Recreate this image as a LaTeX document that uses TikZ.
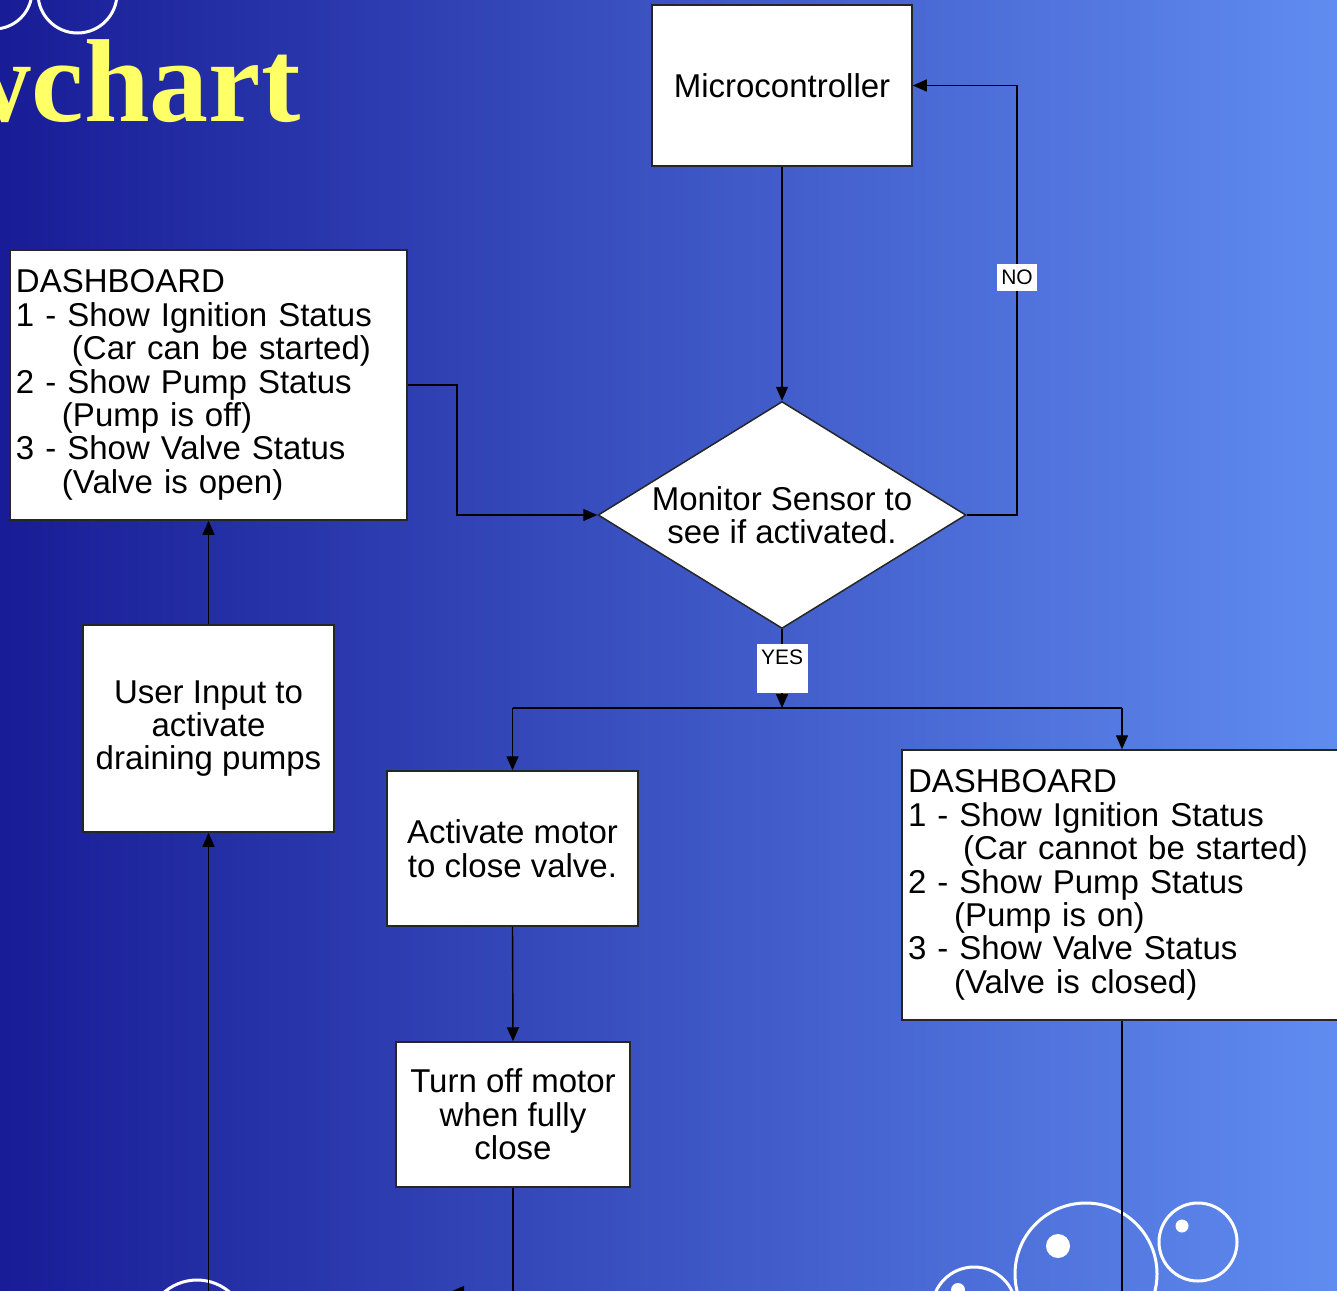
\documentclass[tikz,border=0pt]{standalone}
\usepackage{fontspec}
\setmainfont{Liberation Sans}
\newfontfamily\titrefont{Liberation Serif}
\usetikzlibrary{shapes.geometric,arrows.meta}
\definecolor{fondg}{RGB}{24,28,150}
\definecolor{fondd}{RGB}{96,140,240}
\definecolor{jaune}{RGB}{255,255,102}
\begin{document}
\begin{tikzpicture}[x=0.5pt,y=-0.5pt]
\tikzset{boite/.style={draw=black!85, fill=white, line width=0.75pt, inner sep=0pt, align=center, font=\fontsize{16.5}{16.7}\selectfont},
tableau/.style={boite, align=left, inner xsep=3pt},
losange/.style={boite, diamond, aspect=1.62, minimum width=184pt, minimum height=113.5pt},
etiquette/.style={fill=white, inner sep=0pt, font=\fontsize{10.5}{10.5}\selectfont},
fleche/.style={line width=0.7pt, -{Triangle[length=7pt,width=6pt]}},
trait/.style={line width=0.7pt},
bulle/.style={draw=white, line width=1.5pt}}
\useasboundingbox (0,0) rectangle (1337,1290);
\clip (0,0) rectangle (1337,1290);
\shade[left color=fondg, right color=fondd] (0,0) rectangle (1337,1290);
% bulles
\draw[bulle] (-6,-9) circle (38);
\draw[bulle] (77.5,-6.5) circle (39.5);
\draw[bulle] (197,1330) circle (50);
\draw[bulle] (974,1309) circle (42);
\draw[bulle] (1086,1274) circle (71);
\draw[bulle] (1198,1242) circle (39);
\fill[white] (958,1290) circle (7);
\fill[white] (1058,1246) circle (12);
\fill[white] (1182,1226) circle (6.5);
\node[anchor=base east, text=jaune, inner sep=0pt, font=\titrefont\bfseries\fontsize{59}{59}\selectfont] (Titre) at (301,121) {Flowchart};
% boites
\node[boite, minimum width=130pt, minimum height=80.5pt] (Micro) at (782,85.5) {Microcontroller};
\node[losange] (Sensor) at (782,515) {Monitor Sensor to\\see if activated.};
\node[tableau, text width=192.5pt, minimum height=135pt] (DashA) at (208.5,385) {DASHBOARD\\1 - Show Ignition Status\\\hspace*{28pt}(Car can be started)\\2 - Show Pump Status\\\hspace*{23pt}(Pump is off)\\3 - Show Valve Status\\\hspace*{23pt}(Valve is open)};
\node[boite, minimum width=125.5pt, minimum height=103.5pt] (User) at (208.5,728.5) {User Input to\\activate\\draining pumps};
\node[boite, minimum width=125.5pt, minimum height=77.5pt] (Motor) at (512.5,848.5) {Activate motor\\to close valve.};
\node[boite, minimum width=117pt, minimum height=72.5pt] (Off) at (513,1114.5) {Turn off motor\\when fully\\close};
\node[tableau, text width=214pt, minimum height=135pt] (DashB) at (1122,885) {DASHBOARD\\1 - Show Ignition Status\\\hspace*{27.5pt}(Car cannot be started)\\2 - Show Pump Status\\\hspace*{23pt}(Pump is on)\\3 - Show Valve Status\\\hspace*{23pt}(Valve is closed)};
% points de passage
\coordinate (Retour) at (1017,85.5);
\coordinate (Coude) at (457,515);
\coordinate (Fourche) at (782,708);
\coordinate (G) at (512.5,708);
\coordinate (D) at (1122,708);
\coordinate (Bas1) at (208.5,1300);
\coordinate (Bas2) at (513,1292);
\coordinate (Bas3) at (450,1292);
\coordinate (Bas4) at (1122,1300);
% liens
\draw[fleche] (Micro.south) -- (Sensor.north);
\draw[fleche] (Sensor.east) -| (Retour) -- (Micro.east);
\draw[fleche] (DashA.east) -| (Coude) -- (Sensor.west);
\draw[fleche] (Sensor.south) -- (Fourche);
\draw[trait] (G) -- (D);
\draw[fleche] (G) -- (Motor.north);
\draw[fleche] (D) -- (DashB.north);
\draw[fleche] (Motor.south) -- (Off.north);
\draw[fleche] (Off.south) -- (Bas2) -- (Bas3);
\draw[trait] (DashB.south) -- (Bas4);
\draw[fleche] (User.north) -- (DashA.south);
\draw[fleche] (Bas1) -- (User.south);
\node[etiquette, minimum width=20pt, text height=10pt, text depth=3.5pt, anchor=base] (Non) at (1017,284) {NO};
\node[etiquette, minimum width=25.5pt, text height=10pt, text depth=14.5pt, anchor=base] (Oui) at (782,664) {YES};
\end{tikzpicture}
\end{document}
